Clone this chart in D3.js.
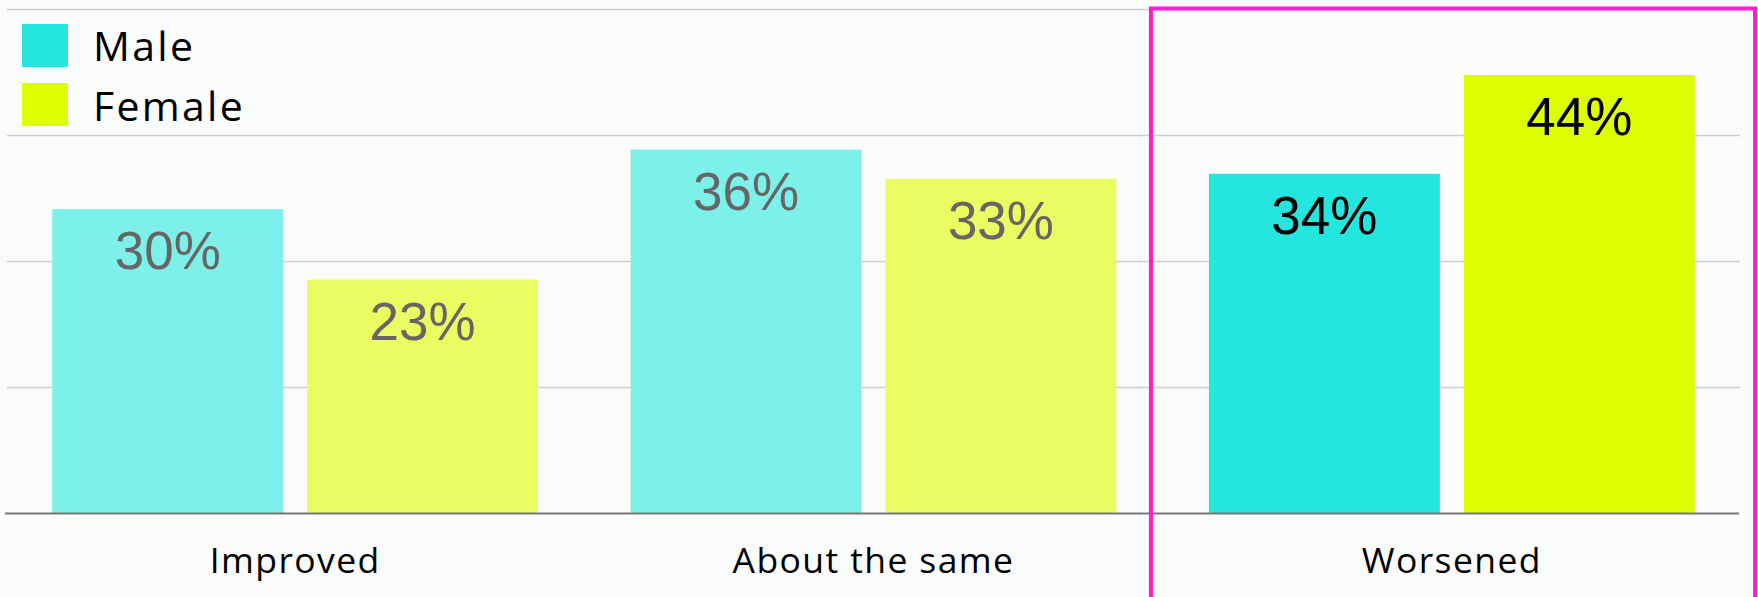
<!DOCTYPE html>
<html>
<head>
<meta charset="utf-8">
<script src="https://cdn.jsdelivr.net/npm/d3@7"></script>
<style>
  html, body { margin: 0; padding: 0; background: #FAFBFB; }
  svg { display: block; }
</style>
</head>
<body>
<svg id="chart" width="1758" height="597"></svg>
<script>
const categories = ["Improved", "About the same", "Worsened"];
const seriesNames = ["Male", "Female"];
const maleValues = [30.2, 36.1, 33.7];
const femaleValues = [23.2, 33.2, 43.5];
const yTicks = [0, 12.5, 25, 37.5, 50];
const highlighted = "Worsened";

const colors = {
  Male:   { full: "#25E6DE", faded: "#7DF0EA" },
  Female: { full: "#DDFF00", faded: "#E9FD62" }
};

const rows = categories.map((c, i) => ({
  category: c,
  values: [
    { series: "Male", value: maleValues[i] },
    { series: "Female", value: femaleValues[i] }
  ]
}));

const svg = d3.select("#chart");
const W = 1758, H = 597;
svg.append("rect").attr("width", W).attr("height", H).attr("fill", "#FAFBFB");

const y = d3.scaleLinear().domain([0, 50]).range([513.5, 9.5]);
const x0 = d3.scaleBand().domain(categories).range([6, 1741])
  .paddingInner(0.16).paddingOuter(0.08);
const x1 = d3.scaleBand().domain(seriesNames).range([0, x0.bandwidth()])
  .paddingInner(0.094).paddingOuter(0);

// gridlines
const grid = svg.append("g");
grid.selectAll("line").data(yTicks.filter(t => t > 0)).join("line")
  .attr("x1", 7).attr("x2", 1740)
  .attr("y1", d => y(d)).attr("y2", d => y(d))
  .attr("stroke", "#CFCFCF").attr("stroke-width", 1.5);

// bars
const groups = svg.append("g").selectAll("g").data(rows).join("g")
  .attr("transform", d => `translate(${x0(d.category)},0)`);

groups.selectAll("rect").data(d => d.values.map(v => ({...v, category: d.category}))).join("rect")
  .attr("x", d => x1(d.series))
  .attr("y", d => y(d.value))
  .attr("width", x1.bandwidth())
  .attr("height", d => y(0) - y(d.value))
  .attr("fill", d => d.category === highlighted ? colors[d.series].full : colors[d.series].faded);

const fmt = d3.format(".0f");
groups.selectAll("text").data(d => d.values.map(v => ({...v, category: d.category}))).join("text")
  .attr("x", d => x1(d.series) + x1.bandwidth() / 2)
  .attr("y", d => y(d.value) + 60)
  .attr("text-anchor", "middle")
  .attr("font-family", "'Liberation Sans', Arial, sans-serif")
  .attr("font-size", 53)
  .attr("fill", d => d.category === highlighted ? "#000000" : "#666666")
  .text(d => fmt(d.value) + "%");

// baseline axis
const xAxis = svg.append("g").attr("transform", `translate(0,${y(0)})`)
  .call(d3.axisBottom(x0).tickSize(0).tickPadding(0));
xAxis.select(".domain").attr("d", "M5,0H1739").attr("stroke", "#777777").attr("stroke-width", 2);
xAxis.selectAll(".tick text")
  .attr("y", 59.5).attr("dy", 0)
  .attr("font-family", "'Open Sans', sans-serif")
  .attr("font-size", 35.5)
  .attr("letter-spacing", 1.4)
  .attr("fill", "#000");

// legend
const legend = svg.append("g");
seriesNames.forEach((s, i) => {
  legend.append("rect").attr("x", 22).attr("y", 24 + i * 59).attr("width", 46).attr("height", 43)
    .attr("fill", colors[s].full);
  legend.append("text").attr("x", 93).attr("y", 61 + i * 60)
    .attr("font-family", "'Open Sans', sans-serif")
    .attr("font-size", 41).attr("letter-spacing", 2.3)
    .attr("fill", "#000").text(s);
});

// highlight box
const hx = x0(highlighted);
svg.append("rect")
  .attr("x", hx - 58).attr("y", 8.5)
  .attr("width", 1755 - (hx - 58)).attr("height", 620)
  .attr("fill", "none").attr("stroke", "#FF1ECF").attr("stroke-width", 4);
</script>
</body>
</html>
